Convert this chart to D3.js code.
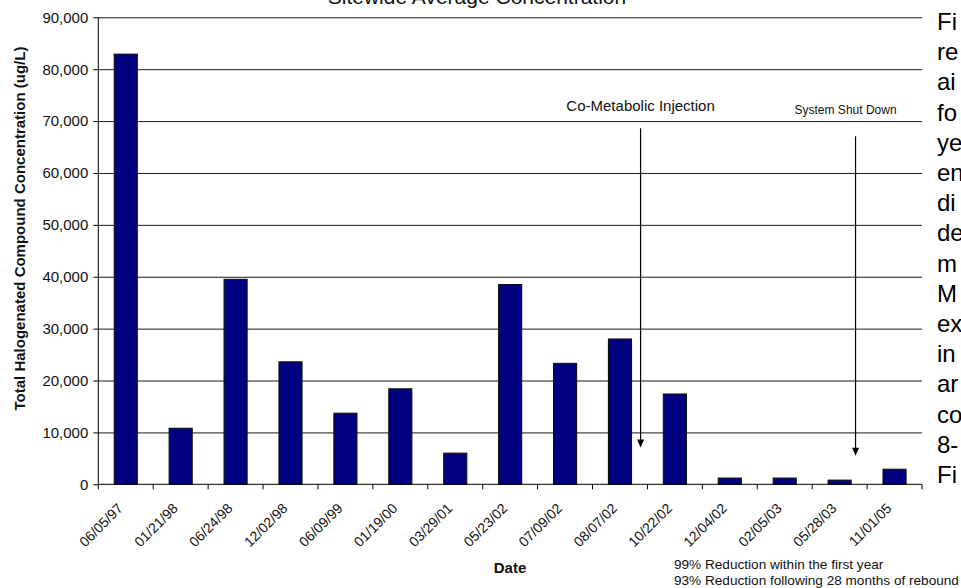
<!DOCTYPE html>
<html>
<head>
<meta charset="utf-8">
<script src="https://cdn.jsdelivr.net/npm/d3@7/dist/d3.min.js"></script>
<style>
  html, body { margin: 0; padding: 0; background: #fff; overflow: hidden; }
  svg { display: block; font-family: "Liberation Sans", Arial, Helvetica, sans-serif; }
</style>
</head>
<body>
<svg id="chart" width="961" height="588"></svg>
<script>
// ---- data ----
const categories = ["06/05/97","01/21/98","06/24/98","12/02/98","06/09/99","01/19/00","03/29/01","05/23/02","07/09/02","08/07/02","10/22/02","12/04/02","02/05/03","05/28/03","11/01/05"];
const values = [82900, 10800, 39500, 23600, 13700, 18400, 6000, 38500, 23300, 28000, 17400, 1200, 1200, 800, 2900];
const yTicks = [0, 10000, 20000, 30000, 40000, 50000, 60000, 70000, 80000, 90000];
const chartTitle = "Sitewide Average Concentration";
const yTitle = "Total Halogenated Compound Concentration (ug/L)";
const xTitle = "Date";
const notes = ["99% Reduction within the first year", "93% Reduction following 28 months of rebound"];
const annotationLabels = ["Co-Metabolic Injection", "System Shut Down"];
const annotationCats = ["08/07/02", "05/28/03"];
const annotationTop = [68600, 67100];
const annotationTip = [7100, 5500];
const annotationLabelValue = [71900, 71400];
const sideText = ["Fi","re","ai","fo","ye","en","di","de","m","M","ex","in","ar","co","8-","Fi"];

// ---- layout ----
const svg = d3.select("#chart");
const pLeft = 98.3, pRight = 922, pTop = 17.3, pBottom = 484.3;

const x = d3.scaleBand().domain(categories).range([pLeft, pRight])
  .paddingInner(0.58).paddingOuter(0.29);
const y = d3.scaleLinear().domain([0, 90000]).range([pBottom, pTop]);
const step = x.step();
const off = (step - x.bandwidth()) / 2;

// gridlines
svg.append("g")
  .attr("transform", `translate(${pLeft},0)`)
  .call(d3.axisLeft(y).tickValues(yTicks.filter(d => d > 0)).tickSize(-(pRight - pLeft)).tickFormat(""))
  .call(g => g.select(".domain").remove())
  .call(g => g.selectAll("line").attr("stroke", "#1a1a1a").attr("stroke-width", 1));

// bars
svg.append("g").selectAll("rect")
  .data(values)
  .join("rect")
  .attr("x", (d, i) => x(categories[i]))
  .attr("y", d => y(d))
  .attr("width", x.bandwidth())
  .attr("height", d => y(0) - y(d))
  .attr("fill", "#000080")
  .attr("stroke", "#111")
  .attr("stroke-width", 1.1);

// y axis
svg.append("g")
  .attr("transform", `translate(${pLeft},0)`)
  .call(d3.axisLeft(y).tickValues(yTicks).tickSize(5).tickPadding(5).tickFormat(d3.format(",")))
  .call(g => g.select(".domain").attr("stroke", "#000").attr("d", `M0,${pTop}V${pBottom}`))
  .call(g => g.selectAll("line").attr("stroke", "#000"))
  .call(g => g.selectAll("text").attr("font-size", 15).attr("fill", "#111")
    .attr("font-family", "'Liberation Sans', Arial, sans-serif"));

// x axis line and ticks at category boundaries
const xa = svg.append("g");
xa.append("line").attr("x1", pLeft).attr("x2", pRight).attr("y1", pBottom).attr("y2", pBottom).attr("stroke", "#000");
const boundaries = categories.map(c => x(c) - off).concat([x(categories[categories.length - 1]) + x.bandwidth() + off]);
xa.selectAll("line.tk").data(boundaries).join("line").attr("class", "tk")
  .attr("x1", d => d).attr("x2", d => d).attr("y1", pBottom).attr("y2", pBottom + 5).attr("stroke", "#000");
xa.selectAll("text").data(categories).join("text")
  .attr("transform", c => `translate(${x(c) + x.bandwidth() / 2 - 2},${pBottom + 25}) rotate(-45)`)
  .attr("text-anchor", "end")
  .attr("font-size", 14)
  .attr("fill", "#111")
  .text(c => c);

// titles
svg.append("text").attr("x", 477).attr("y", 4).attr("text-anchor", "middle")
  .attr("font-size", 21).attr("fill", "#111").text(chartTitle);
svg.append("text").attr("transform", `translate(25,${(47 + 410) / 2}) rotate(-90)`)
  .attr("text-anchor", "middle").attr("font-size", 15).attr("font-weight", "bold")
  .attr("fill", "#111").text(yTitle);
svg.append("text").attr("x", 510).attr("y", 573).attr("text-anchor", "middle")
  .attr("font-size", 15).attr("font-weight", "bold").attr("fill", "#111").text(xTitle);

// notes
svg.append("g").selectAll("text").data(notes).join("text")
  .attr("x", 674).attr("y", (d, i) => 569 + i * 16)
  .attr("font-size", 13.6).attr("fill", "#111").text(d => d);

// annotations
const arrowFrac = [0.875, 0.79];
const labelShift = [0, -10];
const ann = svg.append("g");
annotationLabels.forEach((lab, i) => {
  const ax = x(annotationCats[i]) - off + step * arrowFrac[i];
  ann.append("line").attr("x1", ax).attr("x2", ax)
    .attr("y1", y(annotationTop[i])).attr("y2", y(annotationTip[i]) - 7)
    .attr("stroke", "#000").attr("stroke-width", 1.2);
  const ty = y(annotationTip[i]);
  ann.append("path").attr("d", `M${ax - 3.5},${ty - 8}L${ax + 3.5},${ty - 8}L${ax},${ty}Z`).attr("fill", "#000");
  ann.append("text").attr("x", ax + labelShift[i]).attr("y", y(annotationLabelValue[i]))
    .attr("text-anchor", "middle").attr("font-size", i === 0 ? 15 : 12).attr("fill", "#111").text(lab);
});

// side paragraph (clipped by page edge)
svg.append("g").selectAll("text").data(sideText).join("text")
  .attr("x", 937).attr("y", (d, i) => 30 + i * 30.2)
  .attr("font-size", 24).attr("fill", "#000").text(d => d);
</script>
</body>
</html>
